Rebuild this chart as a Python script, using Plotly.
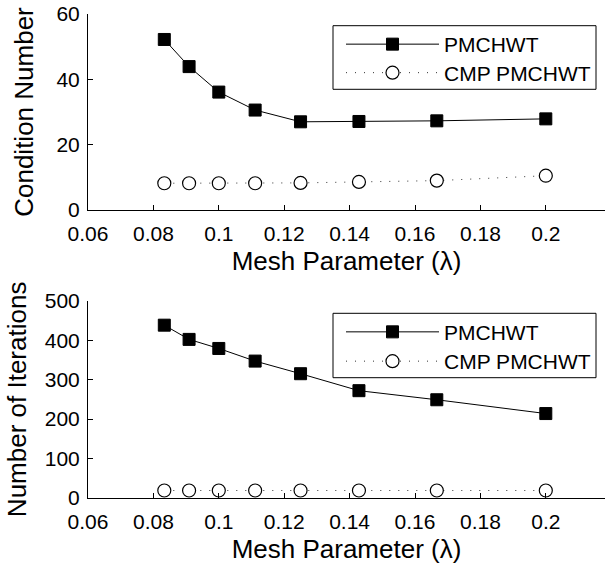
import plotly.graph_objects as go

mesh = [1/12, 1/11, 1/10, 1/9, 1/8, 1/7, 1/6, 1/5]
cond_pmchwt = [52.2, 43.9, 36.1, 30.6, 27.0, 27.1, 27.3, 27.9]
cond_cmp = [8.2, 8.2, 8.2, 8.2, 8.3, 8.6, 9.0, 10.5]
iter_pmchwt = [438, 402, 379, 347, 315, 272, 249, 214]
iter_cmp = [19, 19, 19, 19, 19, 19, 19, 19]

xticks = [0.06, 0.08, 0.1, 0.12, 0.14, 0.16, 0.18, 0.2]
xticklabels = ["0.06", "0.08", "0.1", "0.12", "0.14", "0.16", "0.18", "0.2"]
yticks_top = [0, 20, 40, 60]
yticks_bot = [0, 100, 200, 300, 400, 500]

FONT = "Liberation Sans, Arial, sans-serif"

fig = go.Figure()

def add_pair(x, y1, y2, xa, ya, leg1, leg2):
    fig.add_trace(go.Scatter(
        x=x, y=y1, name="PMCHWT", mode="lines+markers", xaxis=xa, yaxis=ya, legend=leg1,
        line=dict(color="black", width=1),
        marker=dict(symbol="square", size=12, color="black", line=dict(color="black", width=1)),
        cliponaxis=False))
    fig.add_trace(go.Scatter(
        x=x, y=y2, name="CMP PMCHWT", mode="lines+markers", xaxis=xa, yaxis=ya, legend=leg2,
        line=dict(color="#333", width=1, dash="1px,8px"),
        marker=dict(symbol="circle", size=13, color="white", line=dict(color="black", width=1.2)),
        cliponaxis=False))

add_pair(mesh, cond_pmchwt, cond_cmp, "x", "y", "legend", "legend2")
add_pair(mesh, iter_pmchwt, iter_cmp, "x2", "y2", "legend3", "legend4")

xcommon = dict(range=[0.06, 0.2181], tickvals=xticks, ticktext=xticklabels,
               showline=True, linecolor="black", linewidth=1, ticks="inside", ticklen=5,
               tickcolor="black", showgrid=False, zeroline=False, ticklabelstandoff=5,
               tickfont=dict(size=21, color="black", family=FONT),
               title=dict(text="Mesh Parameter (λ)", font=dict(size=26, color="black", family=FONT), standoff=7))
ycommon = dict(showline=True, linecolor="black", linewidth=1, ticks="inside", ticklen=5,
               tickcolor="black", showgrid=False, zeroline=False, ticklabelstandoff=3,
               tickfont=dict(size=21, color="black", family=FONT))

legcommon = dict(bgcolor="rgba(0,0,0,0)", borderwidth=0,
                 font=dict(size=21, color="black", family=FONT),
                 xanchor="left", yanchor="top", itemwidth=93, tracegroupgap=0)

def px_x(p):
    return (p - 88) / 517

def px_y(p):
    return (498 - p) / 484

shapes = []
for top, bot in [(25.7, 89.3), (313.3, 377.7)]:
    shapes.append(dict(type="rect", xref="paper", yref="paper",
                       x0=px_x(333), x1=px_x(596), y0=px_y(bot), y1=px_y(top),
                       line=dict(color="black", width=1), fillcolor="white", layer="above"))

fig.update_layout(
    width=605, height=569,
    margin=dict(l=88, r=0, t=14, b=71),
    paper_bgcolor="white", plot_bgcolor="white",
    showlegend=True,
    shapes=shapes,
    xaxis=dict(domain=[0, 1], anchor="y", **xcommon),
    yaxis=dict(domain=[0.595, 1], anchor="x", range=[0, 60], tickvals=yticks_top,
               title=dict(text="Condition Number", font=dict(size=26, color="black", family=FONT), standoff=15),
               **ycommon),
    xaxis2=dict(domain=[0, 1], anchor="y2", **xcommon),
    yaxis2=dict(domain=[0, 0.4076], anchor="x2", range=[0, 500], tickvals=yticks_bot,
                title=dict(text="Number of Iterations", font=dict(size=26, color="black", family=FONT), standoff=10),
                **ycommon),
    legend=dict(x=px_x(341), y=px_y(44 - 20), **legcommon),
    legend2=dict(x=px_x(341), y=px_y(72.5 - 20), **legcommon),
    legend3=dict(x=px_x(341), y=px_y(331.7 - 20), **legcommon),
    legend4=dict(x=px_x(341), y=px_y(361 - 20), **legcommon),
)

fig.write_html("out.html")
